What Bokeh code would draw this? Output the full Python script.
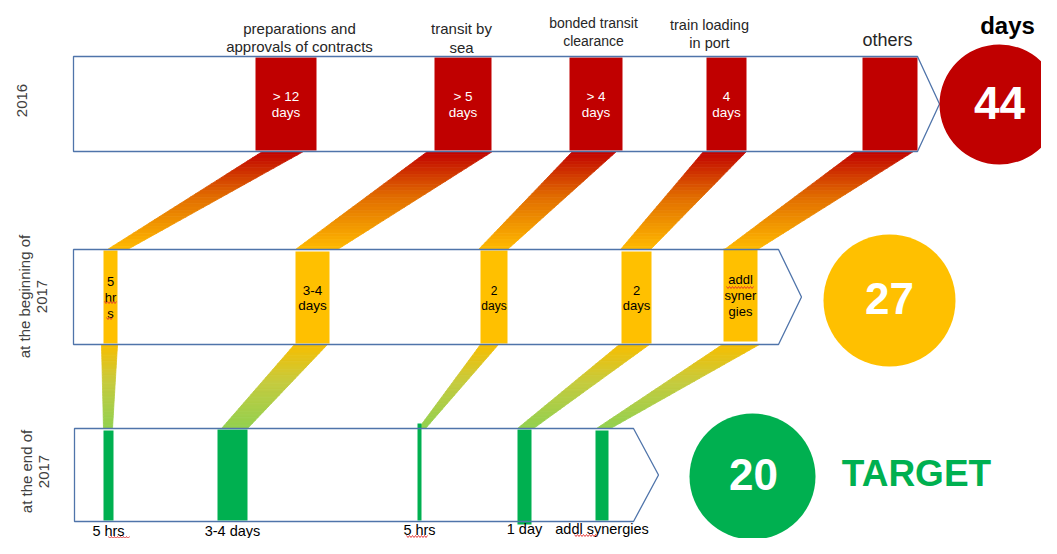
import numpy as np
from bokeh.plotting import figure
from bokeh.models import Range1d
from bokeh.embed import file_html
from bokeh.resources import INLINE
from bokeh.core.properties import value

# ---------------- DATA ----------------
stages = ["preparations and\napprovals of contracts", "transit by\nsea",
          "bonded transit\nclearance", "train loading\nin port", "others"]
row_names = ["2016", "at the beginning of\n2017", "at the end of\n2017"]
totals = [44, 27, 20]
labels_2016 = ["> 12\ndays", "> 5\ndays", "> 4\ndays", "4\ndays", ""]
labels_begin_2017 = ["5\nhr\ns", "3-4\ndays", "2\ndays", "2\ndays", "addl\nsyner\ngies"]
labels_end_2017 = ["5 hrs", "3-4 days", "5 hrs", "1 day", "addl synergies"]
unit_title = "days"
target_text = "TARGET"

# ---------------- LAYOUT (screen pixels) ----------------
FONT = "Liberation Sans"
RED, YEL, GRN = "#C00000", "#FFC000", "#00B050"
EDGE = "#4F74AA"
TXT = "#262626"

bar_x = [
    [(255, 316), (434, 491), (569, 622), (706, 746), (862, 917)],
    [(103, 117), (295, 329), (480, 507), (621, 651), (723, 757)],
    [(103, 113), (217, 247), (417, 421), (517, 531), (595, 608)],
]
bar_y = [
    [(57, 150)] * 5,
    [(250, 343), (251, 343), (250, 343), (251, 343), (248, 341)],
    [(430, 520), (429, 520), (423, 520), (429, 524), (430, 520)],
]
bar_colors = [RED, YEL, GRN]
boxes = [(73, 917, 939, 56, 151), (73, 778, 801, 249, 344), (74, 633, 658, 428, 521)]
circles = [(999, 104, 60), (889, 300, 66), (752, 476, 63)]

bands_a = [((262, 303), (107, 127)), ((427, 492), (295, 337)), ((572, 616), (478, 507)),
           ((703, 746), (620, 650)), ((855, 913), (724, 757))]
bands_b = [((101, 117), (103, 112)), ((294, 327), (221, 247)), ((480, 498), (418, 425)),
           ((619, 649), (517, 533)), ((722, 759), (596, 610))]
grad_a = [(0.0, "#C00000"), (0.45, "#E06A00"), (1.0, "#FFBA00")]
grad_b = [(0.0, "#F8BE00"), (0.45, "#C6CB3E"), (1.0, "#92D050")]

W, H = 1041, 538
p = figure(width=W, height=H, x_range=Range1d(0, W), y_range=Range1d(H, 0),
           output_backend="svg", toolbar_location=None, x_axis_type=None, y_axis_type=None,
           min_border=0, background_fill_color="white", border_fill_color="white")
p.outline_line_color = None
p.grid.visible = False


def hex2rgb(h):
    h = h.lstrip("#")
    return np.array([int(h[i:i + 2], 16) for i in (0, 2, 4)], dtype=float)


def grad_color(stops, t):
    for (t0, c0), (t1, c1) in zip(stops[:-1], stops[1:]):
        if t <= t1:
            f = (t - t0) / (t1 - t0) if t1 > t0 else 0
            c = hex2rgb(c0) * (1 - f) + hex2rgb(c1) * f
            return "#%02x%02x%02x" % tuple(int(round(v)) for v in c)
    return stops[-1][1]


def draw_bands(bands, y_top, y_bot, stops, n=30):
    xs, ys, cs = [], [], []
    for (tl, tr), (bl, br) in bands:
        for i in range(n):
            t0, t1 = i / n, (i + 1) / n
            ya, yb = y_top + (y_bot - y_top) * t0, y_top + (y_bot - y_top) * t1
            la, ra = tl + (bl - tl) * t0, tr + (br - tr) * t0
            lb, rb = tl + (bl - tl) * t1, tr + (br - tr) * t1
            xs.append([la, ra, rb, lb])
            ys.append([ya, ya, yb, yb])
            cs.append(grad_color(stops, (t0 + t1) / 2))
    p.patches(xs, ys, fill_color=cs, line_color=cs, line_width=0.8)


draw_bands(bands_a, 151, 249, grad_a)
draw_bands(bands_b, 344, 428, grad_b)

# bars
for r in range(3):
    lefts = [a for a, b in bar_x[r]]
    rights = [b for a, b in bar_x[r]]
    tops = [a for a, b in bar_y[r]]
    bots = [b for a, b in bar_y[r]]
    p.quad(left=lefts, right=rights, top=tops, bottom=bots,
           fill_color=bar_colors[r], line_color=None)

# boxes (arrow shapes)
for (l, rr, tip, t, b) in boxes:
    ym = (t + b) / 2
    p.patch([l, rr, tip, rr, l], [t, t, ym, b, b], fill_color=None,
            line_color=EDGE, line_width=1.3)


def txt(x, y, s, size, color=TXT, bold=False, align="center", angle=0):
    p.text(x=[x], y=[y], text=[s], text_font=value(FONT), text_font_size=size,
           text_color=color, text_align=align, text_baseline="middle",
           text_font_style="bold" if bold else "normal", angle=angle)


# headers
hdr_x = [299, 461, 593, 709, 887]
hdr_y = [(28, 46), (28, 47), (22, 40), (24, 42)]
hdr_size = ["15px", "15px", "14px", "14.5px"]
for i, s in enumerate(stages[:4]):
    lines = s.split("\n")
    for ln, yy in zip(lines, hdr_y[i]):
        txt(hdr_x[i], yy, ln, hdr_size[i])
txt(hdr_x[4], 39, stages[4], "18px")
txt(1007, 25, unit_title, "24px", color="#000000", bold=True)

# row 1 bar labels
for (a, b), s in zip(bar_x[0], labels_2016):
    if not s:
        continue
    l1, l2 = s.split("\n")
    cx = (a + b) / 2
    txt(cx, 96, l1, "13.5px", color="white")
    txt(cx, 112, l2, "13.5px", color="white")

# row 2 bar labels
row2_sizes = ["13px", "13.5px", "12px", "13px", "13px"]
for (a, b), s, fs in zip(bar_x[1], labels_begin_2017, row2_sizes):
    lines = s.split("\n")
    cx = (a + b) / 2
    if len(lines) == 3:
        y0 = 281 if lines[0] == "5" else 279
        ys_ = [y0, y0 + 16, y0 + 32]
    else:
        ys_ = [290, 305]
    for ln, yy in zip(lines, ys_):
        txt(cx, yy, ln, fs, color="#000000")

# row 3 labels below
row3_y = [530, 530, 529, 528, 528]
for (a, b), s, yy in zip(bar_x[2], labels_end_2017, row3_y):
    cx = (a + b) / 2
    txt(cx, yy, s, "14.5px", color="#000000")

# spell-check squiggles
def squiggle(x0, x1, y):
    xs = np.arange(x0, x1 + 0.01, 1.5)
    ys = y + 1.0 * ((np.arange(len(xs)) % 2) * 2 - 1)
    p.line(xs, ys, line_color="#E03030", line_width=0.9)

squiggle(104, 116, 302)
squiggle(106, 112, 318)
squiggle(726, 753, 287)
squiggle(108, 130, 537)
squiggle(406, 428, 536)
squiggle(574, 597, 535)

# circles and totals
circ_colors = [RED, YEL, GRN]
for (cx, cy, rad), col, tot in zip(circles, circ_colors, totals):
    p.circle(x=[cx], y=[cy], radius=rad, fill_color=col, line_color=None)
txt(999, 102, str(totals[0]), "46px", color="white", bold=True)
txt(889, 298, str(totals[1]), "44px", color="white", bold=True)
txt(753, 474, str(totals[2]), "44px", color="white", bold=True)
txt(916, 473, target_text, "37px", color=GRN, bold=True)

# row names (rotated)
rot = np.pi / 2
txt(21, 100, row_names[0], "15px", color="#404040", angle=rot)
l1, l2 = row_names[1].split("\n")
txt(24, 296, l1, "15px", color="#404040", angle=rot)
txt(41, 296, l2, "15px", color="#404040", angle=rot)
l1, l2 = row_names[2].split("\n")
txt(26, 471, l1, "15px", color="#404040", angle=rot)
txt(43, 471, l2, "15px", color="#404040", angle=rot)

open("out.html", "w").write(file_html(p, INLINE))
